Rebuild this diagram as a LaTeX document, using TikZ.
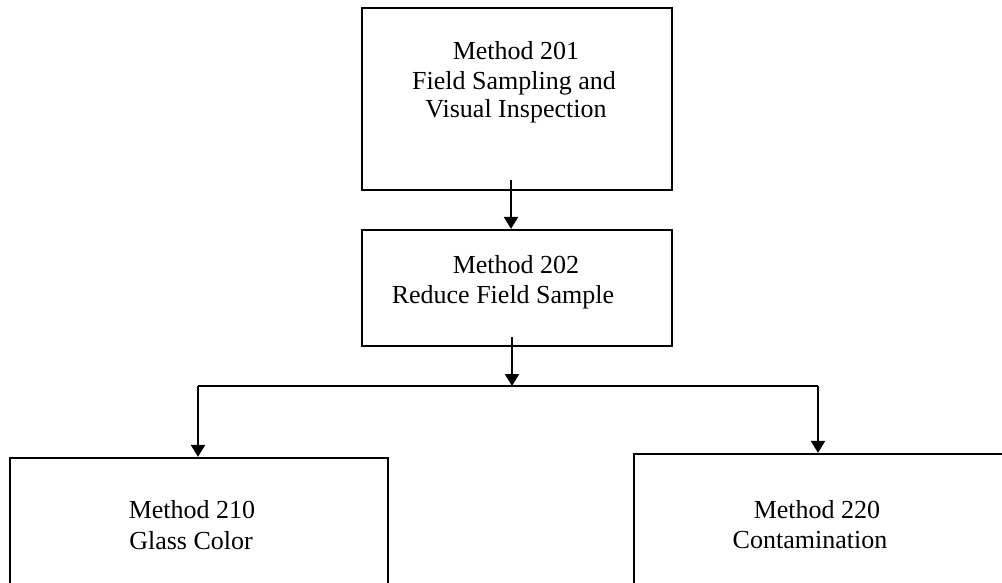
\documentclass[tikz,border=0pt]{standalone}
\usepackage{fontspec}
\setmainfont{Liberation Serif}
\usetikzlibrary{arrows.meta}
\tikzset{
  box/.style={draw, line width=2.2pt, rectangle, inner sep=0pt},
  txt/.style={anchor=base, inner sep=0pt, font=\fontsize{26}{30}\selectfont},
  link/.style={line width=2.2pt},
  arr/.style={link, -{Triangle[width=14pt,length=12pt]}}
}
\begin{document}
\begin{tikzpicture}[x=1pt,y=-1pt]
\clip (0,0) rectangle (1002,583);
\fill[white] (0,0) rectangle (1002,583);

% method boxes
\node[box, minimum width=310pt, minimum height=182pt] (b201) at (517,99) {};
\node[box, minimum width=310pt, minimum height=116pt] (b202) at (517,288) {};
\node[box, minimum width=378pt, minimum height=162pt] (b210) at (199,539) {};
\node[box, minimum width=386pt, minimum height=166pt] (b220) at (827,537) {};

% box texts
\node[txt] (t201a) at (516,60) {Method 201};
\node[txt] (t201b) at (514,90) {Field Sampling and};
\node[txt] (t201c) at (516,118) {Visual Inspection};
\node[txt] (t202a) at (516,273) {Method 202};
\node[txt] (t202b) at (503,303) {Reduce Field Sample};
\node[txt] (t210a) at (192,518) {Method 210};
\node[txt] (t210b) at (191,549) {Glass Color};
\node[txt] (t220a) at (817,518) {Method 220};
\node[txt] (t220b) at (810,548) {Contamination};

% connectors
\coordinate (s1) at (511,180);
\coordinate (s2) at (512,337);
\coordinate (split) at (512,386);
\coordinate (jl) at (198,386);
\coordinate (jr) at (818,386);

\draw[arr] (s1) -- (s1 |- b202.north);
\draw[arr] (s2) -- (split);
\draw[link] (jl) -- (jr);
\draw[arr] (jl) -- (jl |- b210.north);
\draw[arr] (jr) -- (jr |- b220.north);
\end{tikzpicture}
\end{document}
